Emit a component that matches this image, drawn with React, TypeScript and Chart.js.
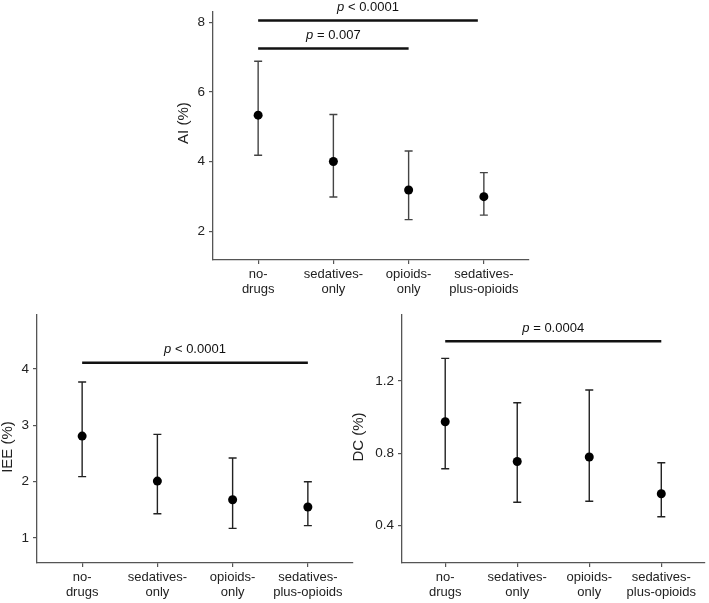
import React, { useEffect, useRef } from 'react';
import { Chart, registerables } from 'chart.js';

Chart.register(...registerables);

const FONT = "'Liberation Sans', Arial, Helvetica, sans-serif";

// ---- data ----
const categories: string[][] = [
  ['no-', 'drugs'],
  ['sedatives-', 'only'],
  ['opioids-', 'only'],
  ['sedatives-', 'plus-opioids'],
];

const aiMean = [5.33, 4.0, 3.18, 2.99];
const aiUpper = [6.88, 5.35, 4.3, 3.68];
const aiLower = [4.18, 2.98, 2.33, 2.46];
const aiTicks = [2, 4, 6, 8];
const aiBrackets = [
  { from: 1, to: 3.92, y: 8.05, op: '< 0.0001' },
  { from: 1, to: 3, y: 7.245, op: '= 0.007' },
];

const ieeMean = [2.81, 2.01, 1.68, 1.55];
const ieeUpper = [3.77, 2.84, 2.42, 2.0];
const ieeLower = [2.09, 1.43, 1.17, 1.22];
const ieeTicks = [1, 2, 3, 4];
const ieeBrackets = [{ from: 1, to: 4, y: 4.11, op: '< 0.0001' }];

const dcMean = [0.975, 0.755, 0.78, 0.577];
const dcUpper = [1.325, 1.08, 1.15, 0.748];
const dcLower = [0.715, 0.53, 0.535, 0.45];
const dcTicks = [0.4, 0.8, 1.2];
const dcBrackets = [{ from: 1, to: 4, y: 1.42, op: '= 0.0004' }];

type Bracket = { from: number; to: number; y: number; op: string };

type PanelProps = {
  title: string;
  mean: number[];
  upper: number[];
  lower: number[];
  ticks: number[];
  brackets: Bracket[];
  yMin: number;
  yMax: number;
  decimals: number;
  left: number;
  top: number;
  width: number;
  height: number;
  padLeft: number;
  padRight: number;
  padTop: number;
  yWidth: number;
  titleX: number;
  titleShift: number;
  whiskerColor: string;
};

function makePlugin(p: PanelProps) {
  return {
    id: 'errBarsBrackets',
    beforeDatasetsDraw(chart: any) {
      const { ctx } = chart;
      const x = chart.scales.x;
      const y = chart.scales.y;
      ctx.save();
      ctx.strokeStyle = p.whiskerColor;
      ctx.lineWidth = 1.4;
      p.upper.forEach((u, i) => {
        const px = x.getPixelForValue(i + 1);
        const pu = y.getPixelForValue(u);
        const pl = y.getPixelForValue(p.lower[i]);
        ctx.beginPath();
        ctx.moveTo(px, pu);
        ctx.lineTo(px, pl);
        ctx.moveTo(px - 4, pu);
        ctx.lineTo(px + 4, pu);
        ctx.moveTo(px - 4, pl);
        ctx.lineTo(px + 4, pl);
        ctx.stroke();
      });
      ctx.restore();
    },
    afterDraw(chart: any) {
      const { ctx } = chart;
      const x = chart.scales.x;
      const y = chart.scales.y;
      ctx.save();
      // y-axis title
      ctx.save();
      ctx.fillStyle = '#222';
      ctx.font = `15px ${FONT}`;
      ctx.textAlign = 'center';
      ctx.textBaseline = 'middle';
      ctx.translate(y.left + p.titleX, (y.top + y.bottom) / 2 + p.titleShift);
      ctx.rotate(-Math.PI / 2);
      ctx.fillText(p.title, 0, 0);
      ctx.restore();
      // significance brackets
      p.brackets.forEach((b) => {
        const x1 = x.getPixelForValue(b.from);
        const x2 = x.getPixelForValue(b.to);
        const py = y.getPixelForValue(b.y);
        ctx.strokeStyle = '#111';
        ctx.lineWidth = 2.5;
        ctx.beginPath();
        ctx.moveTo(x1, py);
        ctx.lineTo(x2, py);
        ctx.stroke();
        const cx = (x1 + x2) / 2;
        const ty = py - 13;
        ctx.fillStyle = '#111';
        ctx.textBaseline = 'middle';
        ctx.textAlign = 'left';
        ctx.font = `italic 13px ${FONT}`;
        const wp = ctx.measureText('p').width;
        ctx.font = `13px ${FONT}`;
        const rest = ' ' + b.op;
        const wr = ctx.measureText(rest).width;
        const sx = cx - (wp + wr) / 2;
        ctx.font = `italic 13px ${FONT}`;
        ctx.fillText('p', sx, ty);
        ctx.font = `13px ${FONT}`;
        ctx.fillText(rest, sx + wp, ty);
      });
      ctx.restore();
    },
  };
}

function Panel(p: PanelProps) {
  const ref = useRef<HTMLCanvasElement | null>(null);
  useEffect(() => {
    if (!ref.current) return;
    const axisGrid = {
      display: true,
      drawOnChartArea: false,
      drawTicks: true,
      tickLength: 4,
      color: '#555',
      lineWidth: 1.2,
    };
    const axisBorder = { display: true, color: '#555', width: 1.3 };
    const chart = new Chart(ref.current, {
      type: 'scatter',
      data: {
        datasets: [
          {
            data: p.mean.map((v, i) => ({ x: i + 1, y: v })),
            pointRadius: 4.5,
            pointBackgroundColor: '#000',
            pointBorderColor: '#000',
            pointBorderWidth: 0,
            showLine: false,
          },
        ],
      },
      options: {
        animation: false,
        responsive: false,
        events: [],
        layout: { padding: { left: p.padLeft, right: p.padRight, top: p.padTop, bottom: 0 } },
        plugins: { legend: { display: false }, tooltip: { enabled: false } },
        scales: {
          x: {
            type: 'linear',
            min: 0.4,
            max: 4.6,
            afterBuildTicks: (s: any) => {
              s.ticks = categories.map((_, i) => ({ value: i + 1 }));
            },
            afterFit: (s: any) => {
              s.height = 40;
            },
            ticks: {
              autoSkip: false,
              maxRotation: 0,
              minRotation: 0,
              padding: 3,
              color: '#222',
              font: { family: FONT, size: 13, lineHeight: 1.15 },
              callback: (v: any) => categories[Math.round(Number(v)) - 1] ?? '',
            },
            grid: axisGrid,
            border: axisBorder,
          },
          y: {
            type: 'linear',
            min: p.yMin,
            max: p.yMax,
            afterBuildTicks: (s: any) => {
              s.ticks = p.ticks.map((v) => ({ value: v }));
            },
            afterFit: (s: any) => {
              s.width = p.yWidth;
            },
            ticks: {
              padding: 4,
              color: '#222',
              font: { family: FONT, size: 13.5 },
              callback: (v: any) => Number(v).toFixed(p.decimals),
            },
            grid: axisGrid,
            border: axisBorder,
            title: { display: false },
          },
        },
      },
      plugins: [makePlugin(p)],
    } as any);
    return () => chart.destroy();
  }, []);
  return (
    <canvas
      ref={ref}
      width={p.width}
      height={p.height}
      style={{ position: 'absolute', left: p.left, top: p.top, width: p.width, height: p.height }}
    />
  );
}

export default function App() {
  return (
    <div style={{ position: 'absolute', left: 0, top: 0, width: 709, height: 603, background: '#fff' }}>
      <Panel
        title="AI (%)"
        mean={aiMean}
        upper={aiUpper}
        lower={aiLower}
        ticks={aiTicks}
        brackets={aiBrackets}
        yMin={1.17}
        yMax={8.29}
        decimals={0}
        left={0}
        top={0}
        width={709}
        height={300}
        padLeft={170}
        padRight={180}
        padTop={12}
        yWidth={43}
        titleX={14}
        titleShift={-13}
        whiskerColor="#444"
      />
      <Panel
        title="IEE (%)"
        mean={ieeMean}
        upper={ieeUpper}
        lower={ieeLower}
        ticks={ieeTicks}
        brackets={ieeBrackets}
        yMin={0.556}
        yMax={4.96}
        decimals={0}
        left={0}
        top={300}
        width={360}
        height={303}
        padLeft={0}
        padRight={7}
        padTop={15}
        yWidth={37}
        titleX={8}
        titleShift={8}
        whiskerColor="#222"
      />
      <Panel
        title="DC (%)"
        mean={dcMean}
        upper={dcUpper}
        lower={dcLower}
        ticks={dcTicks}
        brackets={dcBrackets}
        yMin={0.194}
        yMax={1.565}
        decimals={1}
        left={350}
        top={300}
        width={359}
        height={303}
        padLeft={0}
        padRight={1}
        padTop={15}
        yWidth={52}
        titleX={9}
        titleShift={-2}
        whiskerColor="#222"
      />
    </div>
  );
}
